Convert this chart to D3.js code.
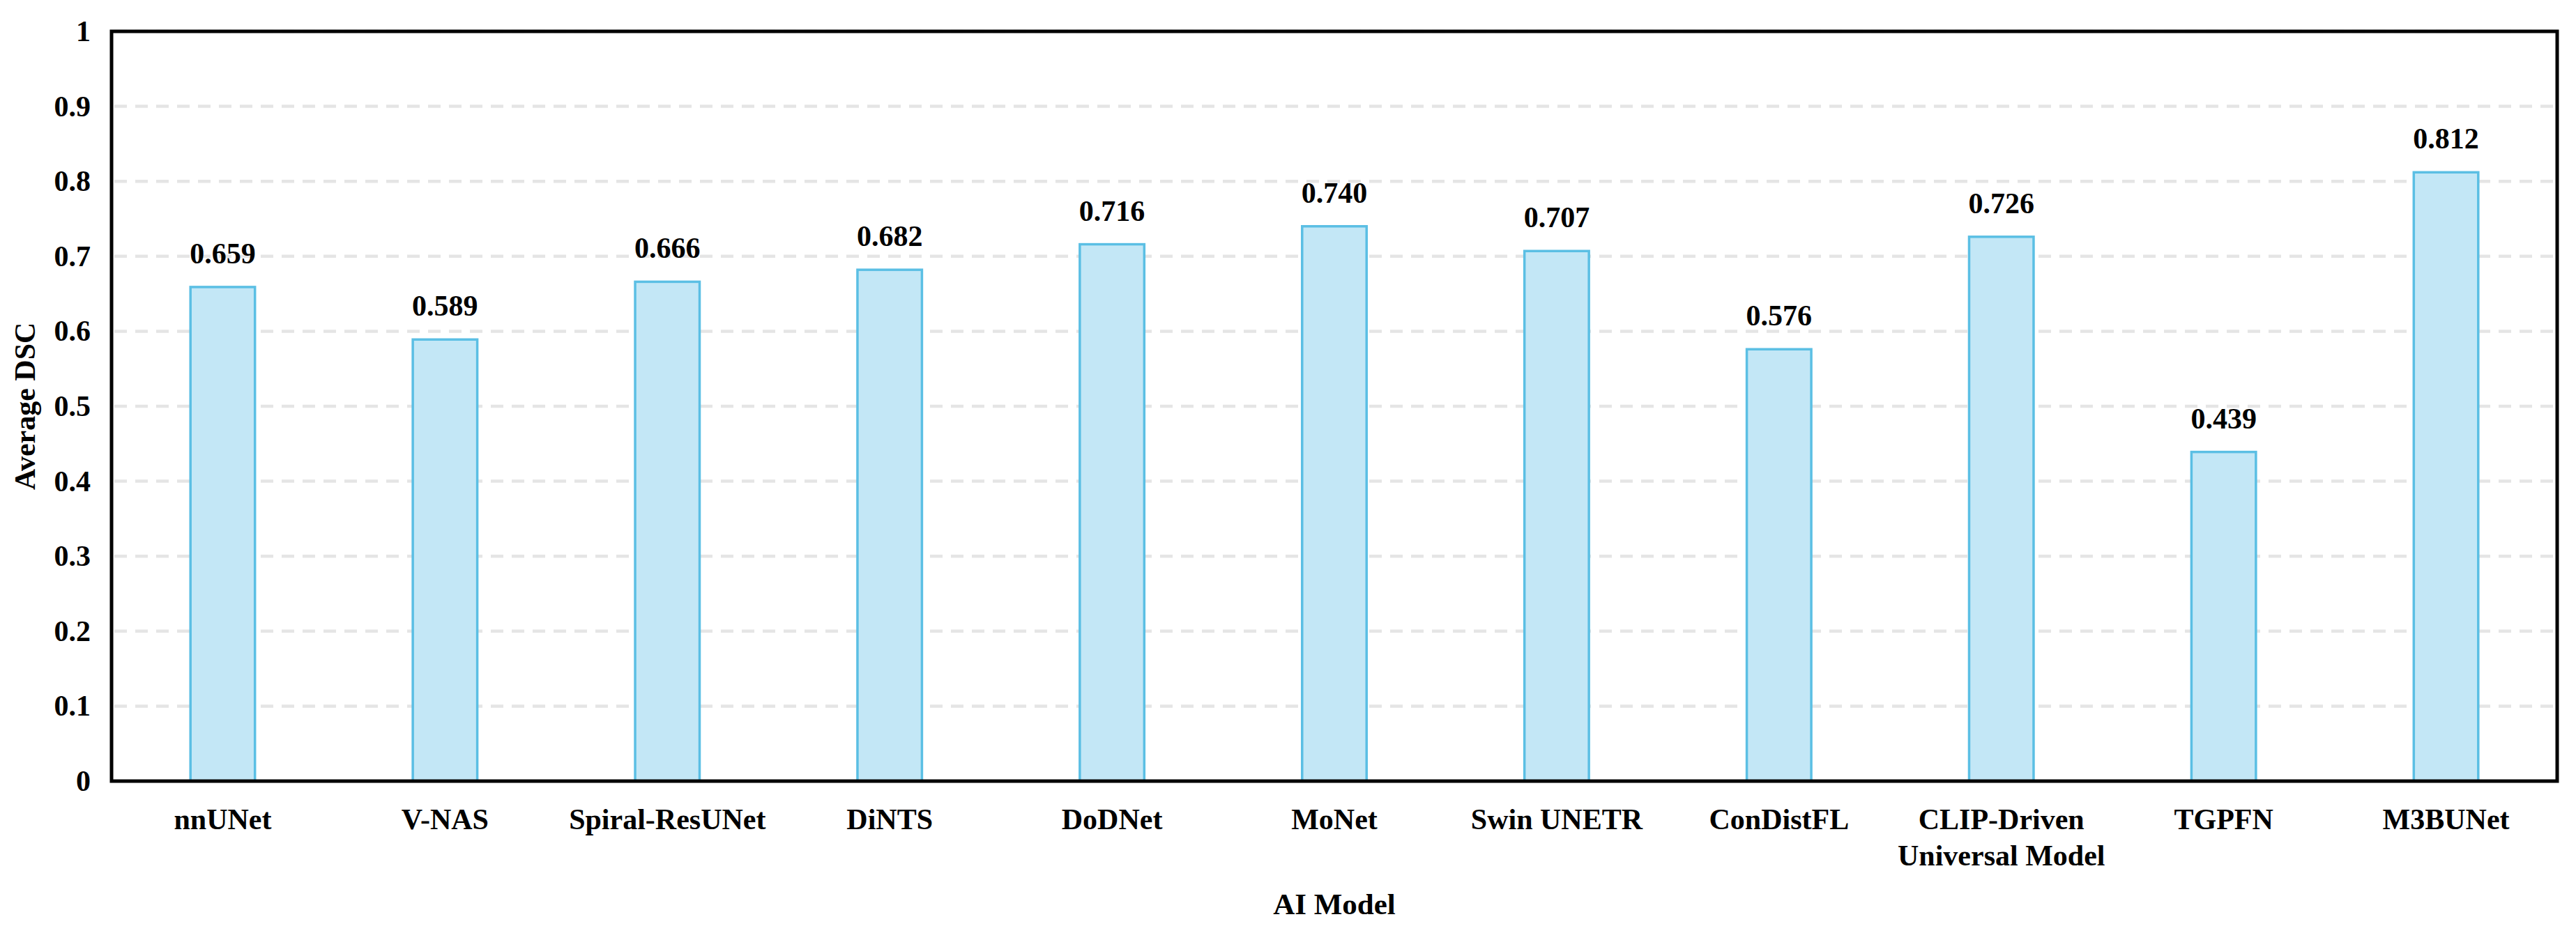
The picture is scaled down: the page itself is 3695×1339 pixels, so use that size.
<!DOCTYPE html>
<html>
<head>
<meta charset="utf-8">
<script src="https://cdn.jsdelivr.net/npm/d3@7"></script>
<style>
  body { margin: 0; background: #fff; }
  svg text { font-family: "Liberation Serif", "Times New Roman", serif !important; font-weight: bold; fill: #000; }
</style>
</head>
<body>
<svg id="chartSVG" width="3695" height="1339"></svg>
<script>
// data
var models = ["nnUNet", "V-NAS", "Spiral-ResUNet", "DiNTS", "DoDNet", "MoNet",
              "Swin UNETR", "ConDistFL", "CLIP-Driven\nUniversal Model", "TGPFN", "M3BUNet"];
var avgDSC = [0.659, 0.589, 0.666, 0.682, 0.716, 0.740, 0.707, 0.576, 0.726, 0.439, 0.812];
var yTicks = [0, 0.1, 0.2, 0.3, 0.4, 0.5, 0.6, 0.7, 0.8, 0.9, 1];

var svg = d3.select("#chartSVG");
var margin = {top: 45, right: 27, bottom: 218, left: 160};
var width = +svg.attr("width") - margin.left - margin.right;
var height = +svg.attr("height") - margin.top - margin.bottom;

var g = svg.append("g").attr("transform", "translate(" + margin.left + "," + margin.top + ")");

var x = d3.scaleBand().domain(models).range([0, width]).paddingInner(0.71).paddingOuter(0.355);
var y = d3.scaleLinear().domain([0, 1]).range([height, 0]);

// dashed grid
g.append("g")
    .selectAll("line")
    .data(yTicks.filter(function(d) { return d > 0; }))
    .enter().append("line")
    .attr("x1", 4)
    .attr("x2", width - 4)
    .attr("y1", function(d) { return y(d); })
    .attr("y2", function(d) { return y(d); })
    .style("stroke", "#e5e5e5")
    .style("stroke-width", 4.5)
    .style("stroke-dasharray", "18,12");

// y axis labels (no tick marks)
var yAxis = g.append("g")
    .call(d3.axisLeft(y).tickValues(yTicks).tickSize(0).tickPadding(30).tickFormat(function(d) { return d; }));
yAxis.select(".domain").remove();
yAxis.selectAll("text").style("font-size", "42px");

// x axis labels, split on newline
var xAxis = g.append("g")
    .attr("transform", "translate(0," + height + ")")
    .call(d3.axisBottom(x).tickSize(0).tickFormat(""));
xAxis.select(".domain").remove();
xAxis.selectAll(".tick").each(function(d) {
  var lines = d.split("\n");
  var t = d3.select(this).append("text")
      .attr("text-anchor", "middle")
      .style("font-size", "42px");
  lines.forEach(function(l, i) {
    t.append("tspan").attr("x", 0).attr("y", 69 + i * 52).text(l);
  });
});

// bars
g.selectAll(".bar")
    .data(avgDSC)
    .enter().append("rect")
    .attr("class", "bar")
    .attr("x", function(d, i) { return x(models[i]); })
    .attr("y", function(d) { return y(d); })
    .attr("width", x.bandwidth())
    .attr("height", function(d) { return height - y(d); })
    .style("fill", "#c3e7f6")
    .style("stroke", "#5bbfe4")
    .style("stroke-width", 3.5);

// value labels
g.selectAll(".val")
    .data(avgDSC)
    .enter().append("text")
    .attr("class", "val")
    .attr("x", function(d, i) { return x(models[i]) + x.bandwidth() / 2; })
    .attr("y", function(d) { return y(d) - 34; })
    .attr("text-anchor", "middle")
    .style("font-size", "42px")
    .text(function(d) { return d3.format(".3f")(d); });

// frame
g.append("rect")
    .attr("x", 0).attr("y", 0)
    .attr("width", width).attr("height", height)
    .style("fill", "none")
    .style("stroke", "#000")
    .style("stroke-width", 5);

// axis titles
g.append("text")
    .attr("x", width / 2)
    .attr("y", height + 191)
    .attr("text-anchor", "middle")
    .style("font-size", "43px")
    .text("AI Model");

g.append("text")
    .attr("transform", "rotate(-90)")
    .attr("x", -height / 2)
    .attr("y", -110)
    .attr("text-anchor", "middle")
    .style("font-size", "42px")
    .text("Average DSC");
</script>
</body>
</html>
